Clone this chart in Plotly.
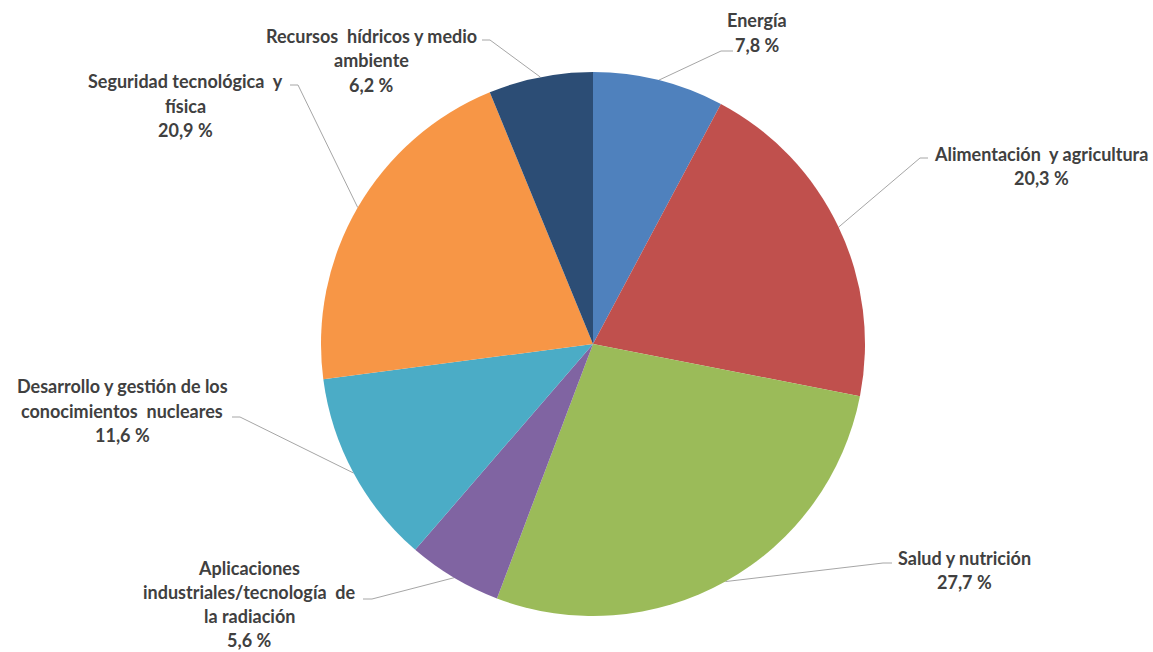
import math
import plotly.graph_objects as go

# ---- data ----
categories = ["Energía", "Alimentación y agricultura", "Salud y nutrición",
              "Aplicaciones industriales/tecnología de la radiación",
              "Desarrollo y gestión de los conocimientos nucleares",
              "Seguridad tecnológica y física", "Recursos hídricos y medio ambiente"]
values = [7.8, 20.3, 27.7, 5.6, 11.6, 20.9, 6.2]
label_lines = [
    ["Energía"],
    ["Alimentación  y agricultura"],
    ["Salud y nutrición"],
    ["Aplicaciones", "industriales/tecnología  de", "la radiación"],
    ["Desarrollo y gestión de los", "conocimientos  nucleares"],
    ["Seguridad tecnológica  y", "física"],
    ["Recursos  hídricos y medio", "ambiente"],
]
colors = ["#4F81BD", "#C0504D", "#9BBB59", "#8064A2", "#4BACC6", "#F79646", "#2C4D75"]

# ---- layout constants (pixels) ----
W, H = 1153, 652
CX, CY, R = 593, 344, 272
# label center x, first-line y, line spacing, connector end (near text), connector elbow
label_pos = [
    (757, 20, 24.5, (733, 51), (721, 51)),
    (1041, 153.5, 24.5, (928, 158), (920, 158)),
    (964, 557.5, 24.5, (892, 563), (883, 563)),
    (249, 568, 24, (363, 599), (372, 599)),
    (122, 386, 24.5, (232, 417), (240, 417)),
    (185, 81, 24.5, (290, 85), (298, 85)),
    (371, 35.5, 24.5, (482, 40), (490, 40)),
]
FONT = dict(family="Lato", size=18, color="#404040")

fig = go.Figure()
fig.add_trace(go.Pie(
    labels=categories, values=values, sort=False, direction="clockwise", rotation=0,
    marker=dict(colors=colors, line=dict(width=0)),
    textinfo="none", hoverinfo="label+percent", showlegend=False,
    domain=dict(x=[(CX - R) / W, (CX + R) / W], y=[(H - CY - R) / H, (H - CY + R) / H]),
))

total = sum(values)
cum = 0.0
annotations = []
for i, v in enumerate(values):
    mid = (cum + v / 2) / total * 2 * math.pi
    cum += v
    ex, ey = CX + R * math.sin(mid), CY - R * math.cos(mid)
    lx, ly, lh, end, elbow = label_pos[i]
    fig.add_trace(go.Scatter(
        x=[ex, elbow[0], end[0]], y=[ey, elbow[1], end[1]], mode="lines",
        line=dict(color="#A6A6A6", width=1), hoverinfo="skip", showlegend=False,
    ))
    lines = label_lines[i] + [f"{v:.1f}".replace(".", ",") + " %"]
    for j, t in enumerate(lines):
        annotations.append(dict(
            x=lx, y=ly + j * lh, xref="x", yref="y", text=f"<b>{t}</b>",
            showarrow=False, xanchor="center", yanchor="middle", font=FONT,
        ))

fig.update_layout(
    width=W, height=H, margin=dict(l=0, r=0, t=0, b=0),
    paper_bgcolor="white", plot_bgcolor="rgba(0,0,0,0)",
    xaxis=dict(range=[0, W], visible=False, fixedrange=True),
    yaxis=dict(range=[H, 0], visible=False, fixedrange=True),
    annotations=annotations,
)
fig.write_html("out.html")
